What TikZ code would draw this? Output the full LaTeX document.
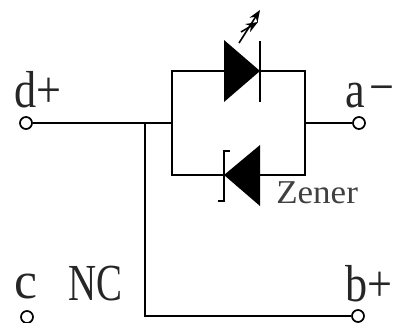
\documentclass[tikz,border=0pt]{standalone}
\usepackage{fontspec}
\setmainfont{Liberation Serif}
\usetikzlibrary{arrows.meta,positioning,shapes}

\tikzset{
    terminal/.style={circle, draw, fill=white, line width=1.3pt, minimum size=9pt, inner sep=0pt},
    wire/.style={line width=1.3pt},
    pin/.style={inner sep=0pt, anchor=base west, xscale=0.85, font=\fontsize{39}{39}\selectfont, text=black!85},
    lightray/.style={-{Stealth[length=9pt,width=7pt]}, line width=1.2pt}
}

\begin{document}
\begin{tikzpicture}[x=0.75pt, y=-0.75pt]
    \useasboundingbox (0,0) rectangle (395,323);

    % terminals
    \node[terminal] (D) at (26,123) {};
    \node[terminal] (A) at (359,123) {};
    \node[terminal] (C) at (27,317) {};
    \node[terminal] (B) at (358,316) {};

    % branch corners
    \coordinate (J) at (145,123);
    \coordinate (L) at (172,123);
    \coordinate (R) at (305,123);
    \coordinate (TL) at (172,71);
    \coordinate (TR) at (305,71);
    \coordinate (BL) at (172,175);
    \coordinate (BR) at (305,175);
    \coordinate (K) at (145,316);

    % wiring
    \draw[wire] (D) -- (L);
    \draw[wire] (R) -- (A);
    \draw[wire] (TL) -- (BL) -- (BR) -- (TR) -- cycle;
    \draw[wire] (J) -- (K) -- (B);

    % LED
    \fill (224,40) -- (260,71) -- (224,102) -- cycle;
    \draw[wire] (260,41) -- (260,102);
    \coordinate (ray1) at (239,43);
    \coordinate (ray2) at (241,32);
    \draw[lightray] (ray1) -- (260,10);
    \draw[lightray] (ray2) -- (258,22);

    % Zener
    \fill[white] (224,146) rectangle (259,204);
    \fill (260,145) -- (224,175) -- (260,206) -- cycle;
    \draw[wire] (230,151) -- (224,151) -- (224,201) -- (218,201);

    % labels
    \node[pin] (dlabel) at (14,108) {d+};
    \node[pin] (alabel) at (345,108) {a\kern0.1em\raisebox{0.06em}{−}};
    \node[pin, xscale=1.17] (clabel) at (14,298) {c};
    \node[pin, xscale=0.88] (nclabel) at (68,300) {NC};
    \node[pin] (blabel) at (345,301) {b+};
    \node[inner sep=0pt, anchor=base west, xscale=1.05, font=\fontsize{25}{25}\selectfont, text=black!75] (zlabel) at (276,204) {Zener};
\end{tikzpicture}
\end{document}
